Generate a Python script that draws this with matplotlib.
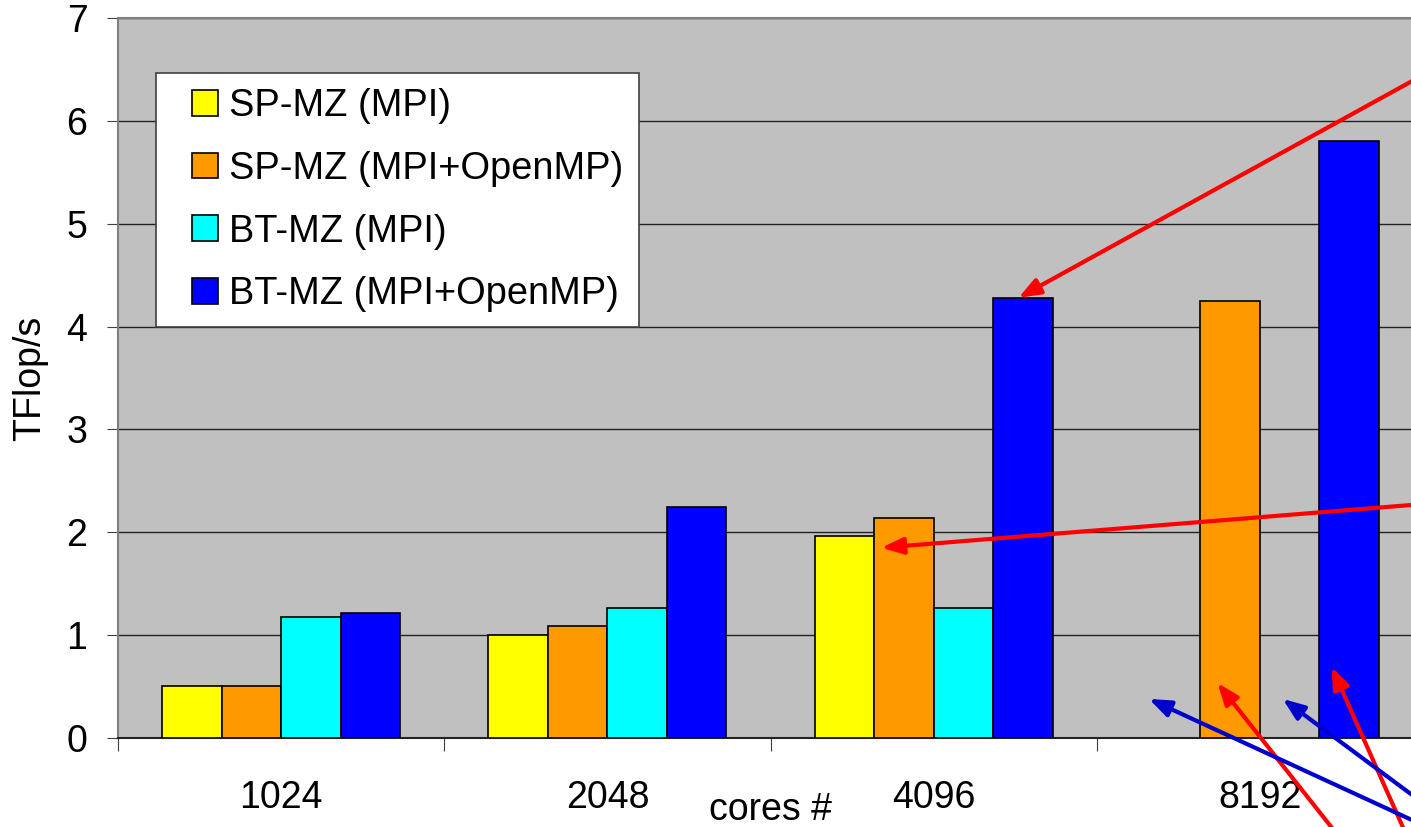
import matplotlib
matplotlib.use('Agg')
import matplotlib.pyplot as plt
from matplotlib.patches import Rectangle
from matplotlib.container import BarContainer
from matplotlib.legend_handler import HandlerPatch, update_from_first_child
import numpy as np

plt.rcParams['font.family'] = ['Liberation Sans', 'DejaVu Sans']

cores = ['1024', '2048', '4096', '8192']
series = ['SP-MZ (MPI)', 'SP-MZ (MPI+OpenMP)', 'BT-MZ (MPI)', 'BT-MZ (MPI+OpenMP)']
sp_mpi = [0.51, 1.00, 1.96, np.nan]
sp_hybrid = [0.51, 1.09, 2.14, 4.25]
bt_mpi = [1.18, 1.26, 1.26, np.nan]
bt_hybrid = [1.22, 2.25, 4.28, 5.80]
colors = ['#FFFF00', '#FF9900', '#00FFFF', '#0000FF']

# arrows drawn on the original slide: (head x, head y, tail x, tail y, colour)
arrows = [
    (2.26, 4.28, 3.60, 6.62, 'red'),
    (1.84, 1.85, 3.60, 2.30, 'red'),
    (2.87, 0.535, 3.24, -0.95, 'red'),
    (3.22, 0.69, 3.45, -0.95, 'red'),
    (2.66, 0.38, 3.55, -0.92, '#0000CC'),
    (3.07, 0.38, 3.55, -0.75, '#0000CC'),
]


def square_handle(legend, orig_handle, xdescent, ydescent, width, height, fontsize):
    # small square pushed to the right end of the handle box
    return Rectangle((-xdescent + width - height, -ydescent), height, height)


fig = plt.figure(figsize=(14.11, 8.27), dpi=100)
ax = fig.add_axes([118/1411, 89/827, 1305/1411, 720/827])
ax.set_facecolor('#C0C0C0')

x = np.arange(len(cores))
w = 0.1825
data = [sp_mpi, sp_hybrid, bt_mpi, bt_hybrid]
for j, (vals, c, lab) in enumerate(zip(data, colors, series)):
    ax.bar(x + (j - 1.5) * w, vals, w, color=c, edgecolor='black', linewidth=1.2,
           label=lab, zorder=3)

ax.set_xlim(-0.5, 3.5)
ax.set_ylim(0, 7)
ax.set_yticks(range(8))
ax.yaxis.grid(True, color='#222222', linewidth=1, zorder=0)
ax.set_axisbelow(True)

ax.set_xticks(np.arange(-0.5, 4, 1))
ax.set_xticklabels([])
ax.set_xticks(x, minor=True)
ax.set_xticklabels(cores, minor=True)
ax.tick_params(axis='x', which='major', length=9, color='#404040', direction='out')
ax.tick_params(axis='x', which='minor', length=0, pad=30, labelsize=27)
ax.tick_params(axis='y', length=8, color='#404040', direction='out', pad=14, labelsize=27)

for s in ['top', 'left', 'right']:
    ax.spines[s].set_color('#808080')
    ax.spines[s].set_linewidth(1.5)
ax.spines['bottom'].set_color('#222222')
ax.spines['bottom'].set_linewidth(1.5)

ax.set_xlabel('cores #', fontsize=27)
ax.xaxis.set_label_coords(0.5, -0.100)
ax.xaxis.label.set_va('center')
ax.set_ylabel('TFlop/s', fontsize=27)
ax.yaxis.set_label_coords(-0.0674, 0.5)
ax.yaxis.label.set_va('center')

leg = ax.legend(loc='upper left', bbox_to_anchor=(0.0291, 0.9236), borderaxespad=0,
                prop={'size': 27.4}, frameon=True, fancybox=False, framealpha=1,
                handlelength=1.23, handleheight=0.67, handletextpad=0.3,
                labelspacing=0.7, borderpad=0.4,
                handler_map={BarContainer: HandlerPatch(patch_func=square_handle,
                                                        update_func=update_from_first_child)})
leg.get_frame().set_edgecolor('#404040')
leg.get_frame().set_linewidth(1.2)
leg.set_zorder(5)

for hx, hy, tx, ty, c in arrows:
    ax.annotate('', xy=(hx, hy), xytext=(tx, ty), annotation_clip=False,
                arrowprops=dict(arrowstyle='-|>,head_length=1.3,head_width=0.5',
                                color=c, lw=3, shrinkA=0, shrinkB=0), zorder=6)

fig.savefig('out.png', dpi=100)
